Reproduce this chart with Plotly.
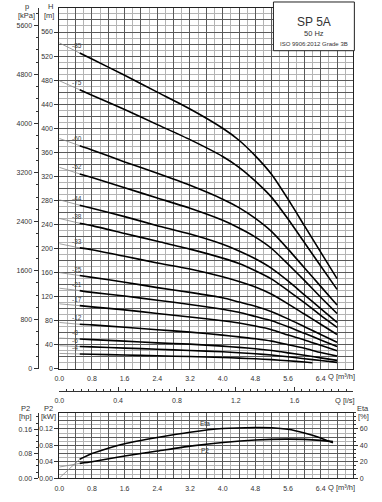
import plotly.graph_objects as go

# ---------------- data ----------------
Q = [0, 0.5, 0.8, 1.6, 2.4, 3.2, 4.0, 4.4, 4.8, 5.2, 5.6, 6.0, 6.4, 6.8]
Q4 = [0, 0.5, 0.8, 1.6, 2.4, 3.2, 4.0, 4.4, 4.8, 5.2, 5.6, 6.0, 6.2]
stages = [85, 75, 60, 52, 44, 38, 33, 25, 21, 17, 12, 8, 6, 4]
H85 = [542, 525, 515, 488, 460, 432, 400, 380, 354, 323, 282, 238, 194, 150]
H75 = [479, 464, 455, 431, 406, 381, 353, 335, 312, 285, 249, 210, 171, 132]
H60 = [383, 371, 364, 344, 325, 305, 282, 268, 250, 228, 199, 168, 137, 106]
H52 = [335, 324, 318, 301, 284, 267, 247, 234, 219, 200, 174, 147, 119, 92]
H44 = [281, 272, 267, 253, 238, 224, 207, 196, 183, 167, 146, 123, 100, 77]
H38 = [250, 242, 238, 225, 212, 199, 184, 175, 163, 149, 130, 110, 89, 69]
H33 = [208, 201, 198, 187, 176, 166, 153, 145, 136, 124, 108, 91, 74, 57]
H25 = [160, 155, 152, 144, 135, 127, 118, 111, 104, 95, 83, 70, 57, 44]
H21 = [134, 130, 127, 121, 114, 107, 99, 94, 87, 80, 70, 59, 48, 37]
H17 = [108, 105, 103, 98, 92, 86, 80, 76, 71, 65, 56, 48, 39, 30]
H12 = [77, 74, 73, 69, 65, 61, 56, 53, 50, 46, 40, 34, 27, 21]
H8 = [51, 49.5, 48.5, 46, 43, 41, 37.6, 35.6, 33.3, 30.4, 26.5, 22.4, 18.2, 14]
H6 = [38.3, 37, 36.4, 34.4, 32.5, 30.5, 28.2, 26.7, 25, 22.8, 19.9, 16.8, 13.7, 10.6]
H4 = [25.5, 24.7, 24.2, 23, 21.6, 20.3, 18.8, 17.8, 16.6, 15.2, 13.3, 11.2, 10.1]
curves = [H85, H75, H60, H52, H44, H38, H33, H25, H21, H17, H12, H8, H6, H4]

Qe = [0, 0.5, 0.8, 1.2, 1.6, 2.4, 3.2, 4.0, 4.8, 5.2, 5.6, 6.0, 6.4, 6.7]
Eta = [0, 23, 30, 36.5, 42, 49.5, 56, 60.5, 61.8, 61.5, 59.5, 55, 49, 43]
Qp = [0, 0.5, 0.8, 1.6, 2.4, 3.2, 4.0, 4.8, 5.6, 6.4, 6.7]
P2 = [0.027, 0.036, 0.040, 0.054, 0.066, 0.078, 0.087, 0.093, 0.095, 0.092, 0.089]

q_labels = [0, 0.8, 1.6, 2.4, 3.2, 4.0, 4.8, 5.6, 6.4]
ls_labels = [0, 0.4, 0.8, 1.2, 1.6]
h_labels = list(range(0, 561, 40))
p_labels = list(range(0, 5601, 800))
kw_labels = [0, 0.04, 0.08, 0.12]
hp_labels = [0, 0.08, 0.16]
eta_labels = [0, 20, 40, 60]

# ---------------- layout geometry (pixels) ----------------
W, HT = 382, 502
def fx(p): return p / W
def fy(p): return 1 - p / HT

X0, X1 = 55, 353
T0, T1 = 8, 371
B0, B1 = 415, 481
FONT = "Liberation Sans, Arial, sans-serif"
TXT = "#333"
TF = dict(family=FONT, size=7, color=TXT)
MAJ = "#5a5a5a"
MIN = "#b4b4b4"

fig = go.Figure()

def dummy(xa, ya, x, y):
    fig.add_trace(go.Scatter(x=[x], y=[y], xaxis=xa, yaxis=ya, mode="markers",
                             marker=dict(opacity=0, size=1), showlegend=False, hoverinfo="skip"))

for n, h in zip(stages, curves):
    q = Q4 if n == 4 else Q
    fig.add_trace(go.Scatter(x=q[:2], y=h[:2], mode="lines",
                             line=dict(color="#888", width=0.8),
                             xaxis="x", yaxis="y", showlegend=False, hoverinfo="skip"))
    fig.add_trace(go.Scatter(x=q[1:], y=h[1:], mode="lines",
                             line=dict(color="black", width=1.6, shape="spline", smoothing=0.6),
                             xaxis="x", yaxis="y", showlegend=False, hoverinfo="skip"))
    ylab = h[0] + (h[1] - h[0]) * 0.42 / 0.5
    fig.add_annotation(x=0.27, y=ylab, xref="x", yref="y", text="-%d" % n,
                       showarrow=False, xanchor="left", yanchor="middle", yshift=6,
                       font=dict(family=FONT, size=6.5, color="#444"))

# bottom panel
fig.add_trace(go.Scatter(x=Qp[:2], y=P2[:2], mode="lines", line=dict(color="#888", width=0.8),
                         xaxis="x2", yaxis="y4", showlegend=False, hoverinfo="skip"))
fig.add_trace(go.Scatter(x=Qp[1:], y=P2[1:], mode="lines",
                         line=dict(color="black", width=1.6, shape="spline", smoothing=0.6),
                         xaxis="x2", yaxis="y4", showlegend=False, hoverinfo="skip"))
fig.add_trace(go.Scatter(x=Qe[:2], y=Eta[:2], mode="lines", line=dict(color="#888", width=0.8),
                         xaxis="x2", yaxis="y6", showlegend=False, hoverinfo="skip"))
fig.add_trace(go.Scatter(x=Qe[1:], y=Eta[1:], mode="lines",
                         line=dict(color="black", width=1.6, shape="spline", smoothing=0.6),
                         xaxis="x2", yaxis="y6", showlegend=False, hoverinfo="skip"))

# invisible anchors so that every auxiliary axis is drawn
dummy("x", "y2", 0, 0)
dummy("x", "y3", 0, 0)
dummy("x3", "y", 0, 0)
dummy("x2", "y5", 0, 0)
dummy("x2", "y7", 0, 0)

grid_x = [round(0.4 * i, 1) for i in range(0, 19)]
grid_xt = [("%.1f" % v) if (v in q_labels) else "" for v in grid_x]

def qaxis(anchor):
    return dict(domain=[fx(X0), fx(X1)], anchor=anchor, range=[0, 7.2],
                tickmode="array", tickvals=grid_x, ticktext=grid_xt, ticks="",
                tickfont=TF, ticklabelstandoff=3,
                showgrid=True, gridcolor=MAJ, gridwidth=1,
                minor=dict(tickmode="linear", tick0=0, dtick=0.2, showgrid=True, gridcolor=MIN, gridwidth=1),
                showline=True, mirror=True, linecolor="#222", linewidth=1, zeroline=False)

fig.update_layout(
    width=W, height=HT, margin=dict(l=0, r=0, t=0, b=0),
    paper_bgcolor="white", plot_bgcolor="white", showlegend=False,
    font=dict(family=FONT, size=7, color=TXT),
    xaxis=qaxis("y"),
    xaxis2=qaxis("y4"),
    xaxis3=dict(overlaying="x", anchor="free", position=fy(393), side="bottom",
                range=[0, 2.0], tickmode="array", tickvals=ls_labels,
                ticktext=["%.1f" % v for v in ls_labels], ticks="inside", ticklen=4,
                tickcolor="#333", tickfont=TF, ticklabelstandoff=3,
                minor=dict(tickmode="linear", tick0=0, dtick=0.05, ticks="inside", ticklen=2, tickcolor="#333"),
                showgrid=False, showline=True, linecolor="#333", linewidth=1, zeroline=False),
    yaxis=dict(domain=[fy(T1), fy(T0)], anchor="x", range=[0, 600],
               tickmode="linear", tick0=0, dtick=20, showticklabels=False, ticks="",
               showgrid=True, gridcolor=MAJ, gridwidth=1,
               minor=dict(tickmode="linear", tick0=0, dtick=10, showgrid=True, gridcolor=MIN, gridwidth=1),
               showline=True, mirror=True, linecolor="#222", linewidth=1, zeroline=False),
    yaxis2=dict(overlaying="y", anchor="x", side="left", range=[0, 600],
                tickmode="array", tickvals=h_labels, ticktext=[str(v) for v in h_labels],
                ticks="outside", ticklen=4, tickcolor="#333", tickfont=TF,
                showgrid=False, showline=False, zeroline=False),
    yaxis3=dict(overlaying="y", anchor="free", position=fx(33), side="left",
                range=[0, 600 * 9.80665], tickmode="array", tickvals=p_labels,
                ticktext=[str(v) for v in p_labels], ticks="outside", ticklen=4,
                tickcolor="#333", tickfont=TF,
                minor=dict(tickmode="linear", tick0=0, dtick=200, ticks="outside", ticklen=2, tickcolor="#333"),
                showgrid=False, showline=True, linecolor="#333", linewidth=1, zeroline=False),
    yaxis4=dict(domain=[fy(B1), fy(B0)], anchor="x2", range=[0, 0.16],
                tickmode="linear", tick0=0, dtick=0.02, showticklabels=False, ticks="",
                showgrid=True, gridcolor=MAJ, gridwidth=1,
                minor=dict(tickmode="linear", tick0=0, dtick=0.01, showgrid=True, gridcolor=MIN, gridwidth=1),
                showline=True, mirror=True, linecolor="#222", linewidth=1, zeroline=False),
    yaxis5=dict(overlaying="y4", anchor="x2", side="left", range=[0, 0.16],
                tickmode="array", tickvals=kw_labels, ticktext=["%.2f" % v for v in kw_labels],
                ticks="outside", ticklen=4, tickcolor="#333", tickfont=TF,
                showgrid=False, showline=False, zeroline=False),
    yaxis6=dict(overlaying="y4", anchor="x2", side="right", range=[0, 80],
                tickmode="array", tickvals=eta_labels, ticktext=[str(v) for v in eta_labels],
                ticks="outside", ticklen=4, tickcolor="#333", tickfont=TF,
                minor=dict(tickmode="linear", tick0=0, dtick=5, ticks="outside", ticklen=2, tickcolor="#333"),
                showgrid=False, showline=True, linecolor="#333", linewidth=1, zeroline=False),
    yaxis7=dict(overlaying="y4", anchor="free", position=fx(33), side="left",
                range=[0, 0.16 / 0.7457], tickmode="array", tickvals=hp_labels,
                ticktext=["%.2f" % v for v in hp_labels], ticks="outside", ticklen=4,
                tickcolor="#333", tickfont=TF,
                minor=dict(tickmode="linear", tick0=0, dtick=0.02, ticks="outside", ticklen=2, tickcolor="#333"),
                showgrid=False, showline=True, linecolor="#333", linewidth=1, zeroline=False),
)

# title box
fig.add_shape(type="rect", xref="paper", yref="paper", x0=fx(272), x1=fx(354), y0=fy(51), y1=fy(2),
              fillcolor="white", line=dict(color="#222", width=1), layer="above")

def ptext(x, y, t, size=7.5, anchor="center"):
    fig.add_annotation(x=fx(x), y=fy(y), xref="paper", yref="paper", text=t, showarrow=False,
                       xanchor=anchor, yanchor="middle", font=dict(family=FONT, size=size, color=TXT))

ptext(313, 22, "SP 5A", size=12)
ptext(313, 34, "50 Hz", size=7.5)
ptext(313, 44, "ISO 9906:2012 Grade 3B", size=6)

ptext(22, 7, "p")
ptext(22, 16, "[kPa]")
ptext(46, 7, "H")
ptext(45, 16, "[m]")
ptext(325, 379, "Q [m³/h]", anchor="left")
ptext(332, 403, "Q [l/s]", anchor="left")
ptext(21, 411, "P2")
ptext(21, 419, "[hp]")
ptext(44, 411, "P2")
ptext(44, 419, "[kW]")
ptext(363, 411, "Eta")
ptext(363, 419, "[%]")
ptext(325, 490, "Q [m³/h]", anchor="left")
ptext(203, 426, "Eta", size=6.5)
ptext(203, 453, "P2", size=6.5)

fig.write_html("out.html", config={"displayModeBar": False},
               post_script="document.body.style.margin='0';")
